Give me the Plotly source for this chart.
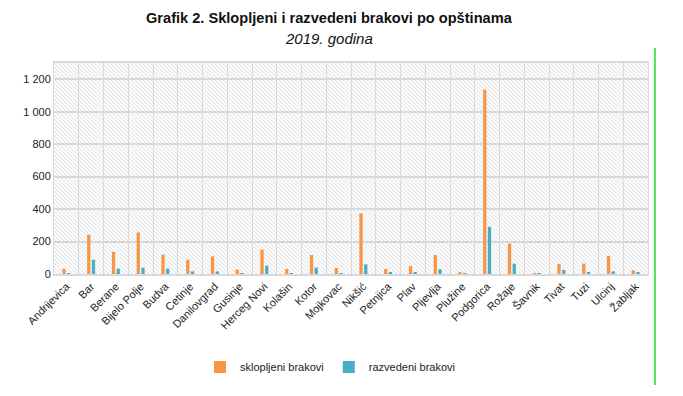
import base64
import plotly.graph_objects as go

categories = ["Andrijevica", "Bar", "Berane", "Bijelo Polje", "Budva", "Cetinje",
              "Danilovgrad", "Gusinje", "Herceg Novi", "Kolašin", "Kotor", "Mojkovac",
              "Nikšić", "Petnjica", "Plav", "Pljevlja", "Plužine", "Podgorica",
              "Rožaje", "Šavnik", "Tivat", "Tuzi", "Ulcinj", "Žabljak"]
sklopljeni = [33, 242, 137, 256, 119, 88, 109, 27, 150, 31, 117, 37,
              373, 31, 49, 117, 10, 1136, 187, 6, 62, 64, 111, 23]
razvedeni = [2, 88, 33, 39, 33, 16, 16, 1, 51, 2, 39, 1,
             59, 10, 8, 29, 1, 291, 64, 1, 25, 8, 16, 10]
y_tickvals = [0, 200, 400, 600, 800, 1000, 1200]
y_ticktext = ["0", "200", "400", "600", "800", "1 000", "1 200"]

FONT = "Liberation Sans, Arial, sans-serif"
GRID = "#d9d9d9"

# page offset of the figure (default body margin) is 8px
PL, PR, PT, PB = 54, 648, 63, 274  # plot area in page pixels
OFF = 8
W, H = 683 - OFF, 396 - OFF

def px(x):
    return (x - PL) / (PR - PL)

def py(y):
    return (PB - y) / (PB - PT)

svg = ("<svg xmlns='http://www.w3.org/2000/svg' width='594' height='211'>"
       "<defs><pattern id='h' width='4' height='4' patternUnits='userSpaceOnUse'>"
       "<rect width='4' height='4' fill='#fbfbfb'/>"
       "<path d='M-1,-1 L5,5 M-1,3 L1,5 M3,-1 L5,1' stroke='#e2e2e2' stroke-width='1'/>"
       "</pattern></defs><rect width='100%' height='100%' fill='url(#h)'/></svg>")
svg_uri = "data:image/svg+xml;base64," + base64.b64encode(svg.encode()).decode()

fig = go.Figure()
fig.add_trace(go.Bar(x=categories, y=sklopljeni, name="sklopljeni brakovi",
                     marker=dict(color="#F79646", line=dict(width=0))))
fig.add_trace(go.Bar(x=categories, y=razvedeni, name="razvedeni brakovi",
                     marker=dict(color="#4BACC6", line=dict(width=0))))

fig.update_layout(
    width=W, height=H,
    margin=dict(l=PL - OFF, r=W - (PR - OFF), t=PT - OFF, b=H - (PB - OFF)),
    paper_bgcolor="white",
    plot_bgcolor="rgba(0,0,0,0)",
    font=dict(family=FONT, size=11, color="#222222"),
    barmode="group", bargap=0.62, bargroupgap=0.3,
    showlegend=True,
    legend=dict(orientation="h", x=px(330), xanchor="center", y=py(367), yanchor="middle",
                font=dict(size=11, color="#222222"), itemwidth=30,
                traceorder="normal", bgcolor="rgba(0,0,0,0)"),
    images=[dict(source=svg_uri, xref="paper", yref="paper", x=0, y=1,
                 sizex=1, sizey=1, xanchor="left", yanchor="top",
                 sizing="stretch", layer="below")],
    annotations=[
        dict(text="<b>Grafik 2. Sklopljeni i razvedeni brakovi po opštinama</b>",
             xref="paper", yref="paper", x=px(329), y=py(18),
             xanchor="center", yanchor="middle", showarrow=False,
             font=dict(size=14.6, color="#111111", family=FONT)),
        dict(text="<i>2019. godina</i>",
             xref="paper", yref="paper", x=px(329), y=py(38),
             xanchor="center", yanchor="middle", showarrow=False,
             font=dict(size=15, color="#111111", family=FONT)),
    ],
    shapes=[dict(type="line", xref="paper", yref="paper",
                 x0=px(655), x1=px(655), y0=py(48), y1=py(385),
                 line=dict(color="#22dd22", width=1.5))],
)
fig.update_xaxes(type="category", tickson="boundaries", showgrid=True, gridcolor=GRID,
                 gridwidth=1, ticks="", tickangle=-45, showline=True, linecolor=GRID,
                 linewidth=1.5, mirror=True, tickfont=dict(size=11, color="#222222"))
fig.update_yaxes(range=[0, 1300], tickvals=y_tickvals, ticktext=y_ticktext,
                 showgrid=True, gridcolor=GRID, gridwidth=1.5, zeroline=False,
                 showline=True, linecolor=GRID, linewidth=1, mirror=True, ticks="",
                 tickfont=dict(size=11, color="#222222"))

fig.write_html("out.html")
